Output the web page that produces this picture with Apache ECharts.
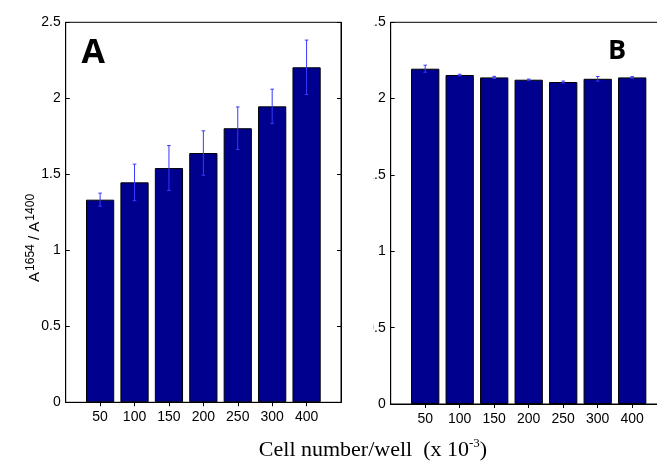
<!DOCTYPE html>
<html>
<head>
<meta charset="utf-8">
<script src="https://cdn.jsdelivr.net/npm/echarts@6/dist/echarts.min.js"></script>
<style>html,body{margin:0;padding:0;background:#fff}#c{width:657px;height:464px}</style>
</head>
<body>
<div id="c"></div>
<script>
const categories = ['50', '100', '150', '200', '250', '300', '400'];
const meanA = [1.333, 1.447, 1.541, 1.640, 1.803, 1.947, 2.204];
const errA  = [0.043, 0.120, 0.148, 0.146, 0.140, 0.113, 0.179];
const meanB = [2.196, 2.155, 2.139, 2.124, 2.109, 2.130, 2.139];
const errB  = [0.023, 0.005, 0.007, 0.004, 0.006, 0.015, 0.005];
const yMin = 0, yMax = 2.5, yStep = 0.5;

const padCats = ['', ...categories, ''];
const pad = arr => ['-', ...arr, '-'];
const errData = (m, e) => m.map((v, i) => [i + 1, v - e[i], v + e[i]]);

const tickShow = (idx) => idx > 0 && idx < padCats.length - 1;
const labelFont = 'Liberation Sans, Arial, sans-serif';

function xAxes(g) {
  return [
    {
      type: 'category', gridIndex: g, data: padCats, boundaryGap: false,
      axisLine: { lineStyle: { color: '#000', width: 1 } },
      axisTick: { inside: true, length: 4, interval: tickShow, lineStyle: { color: '#000' } },
      axisLabel: { interval: 0, fontSize: 14, color: '#000', margin: 8, fontFamily: labelFont },
      splitLine: { show: false }
    },
    {
      type: 'category', gridIndex: g, data: padCats, boundaryGap: false, position: 'top',
      axisLine: { lineStyle: { color: '#000', width: 1 } },
      axisTick: { inside: true, length: 4, interval: tickShow, lineStyle: { color: '#000' } },
      axisLabel: { show: false }, splitLine: { show: false }
    }
  ];
}
function yAxes(g) {
  return [
    {
      type: 'value', gridIndex: g, min: yMin, max: yMax, interval: yStep,
      axisLine: { show: true, lineStyle: { color: '#000', width: 1 } },
      axisTick: { show: true, inside: true, length: 4, lineStyle: { color: '#000' } },
      axisLabel: { fontSize: 14, color: '#000', margin: 5, fontFamily: labelFont },
      splitLine: { show: false }
    },
    {
      type: 'value', gridIndex: g, min: yMin, max: yMax, interval: yStep, position: 'right',
      axisLine: { show: true, lineStyle: { color: '#000', width: 1 } },
      axisTick: { show: true, inside: true, length: 4, lineStyle: { color: '#000' } },
      axisLabel: { show: false }, splitLine: { show: false }
    }
  ];
}

function errRender(params, api) {
  const x = api.value(0);
  const lo = api.coord([x, api.value(1)]);
  const hi = api.coord([x, api.value(2)]);
  const h = 1.8;
  const st = { stroke: '#3838ff', lineWidth: 1 };
  return {
    type: 'group',
    children: [
      { type: 'line', shape: { x1: lo[0], y1: lo[1], x2: hi[0], y2: hi[1] }, style: st },
      { type: 'line', shape: { x1: hi[0] - h, y1: hi[1], x2: hi[0] + h, y2: hi[1] }, style: st },
      { type: 'line', shape: { x1: lo[0] - h, y1: lo[1], x2: lo[0] + h, y2: lo[1] }, style: st }
    ]
  };
}

const barStyle = { color: '#00008f', borderColor: '#000', borderWidth: 1 };
const serif = 'Liberation Serif, Times New Roman, serif';

const chart = echarts.init(document.getElementById('c'), null, { renderer: 'canvas' });
chart.setOption({
  animation: false,
  backgroundColor: '#fff',
  grid: [
    { left: 65.7, top: 22.3, width: 275.3, height: 380, show: true, borderColor: '#000', borderWidth: 1, backgroundColor: 'transparent', outerBoundsMode: 'none', containLabel: false },
    { left: 390.7, top: 22.3, width: 276, height: 381.7, show: true, borderColor: '#000', borderWidth: 1, backgroundColor: 'transparent', outerBoundsMode: 'none', containLabel: false }
  ],
  xAxis: [...xAxes(0), ...xAxes(1)],
  yAxis: [...yAxes(0), ...yAxes(1)],
  series: [
    { type: 'bar', xAxisIndex: 0, yAxisIndex: 0, data: pad(meanA), barWidth: '82%', itemStyle: barStyle, z: 2 },
    { type: 'custom', xAxisIndex: 0, yAxisIndex: 0, data: errData(meanA, errA), renderItem: errRender, encode: { x: 0, y: [1, 2] }, z: 5 },
    { type: 'bar', xAxisIndex: 2, yAxisIndex: 2, data: pad(meanB), barWidth: '82%', itemStyle: barStyle, z: 2 },
    { type: 'custom', xAxisIndex: 2, yAxisIndex: 2, data: errData(meanB, errB), renderItem: errRender, encode: { x: 0, y: [1, 2] }, z: 5 }
  ],
  graphic: [
    { type: 'rect', shape: { x: 342, y: 0, width: 31.5, height: 430 }, style: { fill: '#fff' }, z: 100 },
    { type: 'text', x: 81.5, y: 53, z: 101, style: { text: 'A', font: 'bold 34px "Open Sans"', fill: '#000', align: 'left', verticalAlign: 'middle' } },
    { type: 'text', x: 608, y: 51.5, z: 101, style: { text: 'B', font: 'bold 27px "Open Sans"', fill: '#000', align: 'left', verticalAlign: 'middle' } },
    {
      type: 'text', x: 33.5, y: 238, rotation: Math.PI / 2, z: 101,
      style: {
        text: '{a|A}{g| }{s|1654}{a| / A}{g| }{s|1400}',
        align: 'center', verticalAlign: 'middle', fill: '#000',
        rich: {
          a: { fontSize: 15, lineHeight: 18, fontFamily: labelFont, verticalAlign: 'bottom', fill: '#000' },
          g: { fontSize: 4, fontFamily: labelFont, verticalAlign: 'bottom', fill: '#000' },
          s: { fontSize: 12, fontFamily: labelFont, verticalAlign: 'top', fill: '#000' }
        }
      }
    },
    {
      type: 'text', x: 373, y: 449, z: 101,
      style: {
        text: '{t|Cell number/well  (x 10}{s|-3}{t|)}',
        align: 'center', verticalAlign: 'middle', fill: '#000',
        rich: {
          t: { fontSize: 22, lineHeight: 24, fontFamily: serif, verticalAlign: 'bottom', fill: '#000' },
          s: { fontSize: 13, fontFamily: serif, verticalAlign: 'top', fill: '#000' }
        }
      }
    }
  ]
});
</script>
</body>
</html>
